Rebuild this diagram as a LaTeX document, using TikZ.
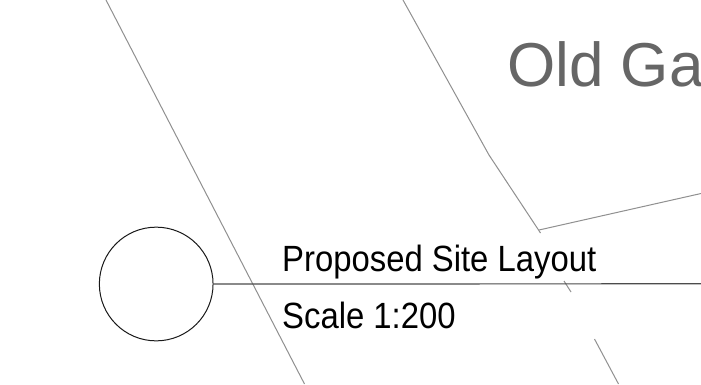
\documentclass[tikz,border=0pt]{standalone}
\usepackage{fontspec}
\setmainfont{Liberation Sans}
\newfontfamily\narrowsans[FakeStretch=0.9]{Liberation Sans}
\definecolor{thinline}{HTML}{909090}
\definecolor{ttl}{HTML}{666666}
\tikzset{
  site/.style={draw=thinline,line width=1pt},
  markline/.style={draw=black!90,line width=1pt},
  lbl/.style={anchor=base west,inner sep=0pt,text=black},
}
\begin{document}
\begin{tikzpicture}[x=1pt,y=-1pt]
\useasboundingbox (0,0) rectangle (701,384);
\clip (0,0) rectangle (701,384);
\fill[white] (0,0) rectangle (701,384);
\coordinate (s1a) at (106,0);
\coordinate (s1b) at (304.5,384);
\draw[site] (s1a) -- (s1b);
\coordinate (s2a) at (403,0);
\coordinate (s2b) at (489,155);
\coordinate (s2c) at (540.5,233);
\coordinate (s3a) at (539,230);
\coordinate (s3b) at (701,193.5);
\draw[site] (s2a) -- (s2b) -- (s2c);
\draw[site] (s3a) -- (s3b);
\coordinate (s4a) at (564,281);
\coordinate (s4b) at (571,292);
\draw[site] (s4a) -- (s4b);
\coordinate (s5a) at (594.5,339);
\coordinate (s5b) at (618.5,384);
\draw[site] (s5a) -- (s5b);
\node[circle,markline,minimum size=113.7pt,inner sep=0pt] (c) at (156.2,284) {};
\coordinate (e) at (701,283.8);
\draw[draw=black!70,line width=1.2pt] (c.east) -- (e);
\node[lbl,font=\narrowsans\fontsize{36.5}{36.5}\selectfont] (a) at (282,271.5) {Proposed Site Layout};
\node[lbl,font=\narrowsans\fontsize{36.5}{36.5}\selectfont] (b) at (282,328) {Scale 1:200};
\node[lbl,text=ttl,font=\fontsize{62}{62}\selectfont] (t) at (507,86) {Old Ga};
\end{tikzpicture}
\end{document}
